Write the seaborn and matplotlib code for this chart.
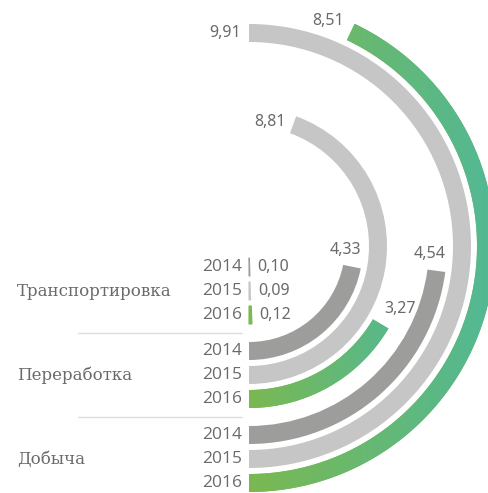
import numpy as np
import pandas as pd
import matplotlib
matplotlib.use("Agg")
import matplotlib.pyplot as plt
from matplotlib.path import Path
import seaborn as sns

# Data: value by segment and year
segments = ["Транспортировка", "Переработка", "Добыча"]
years = ["2014", "2015", "2016"]
transport = [0.10, 0.09, 0.12]
processing = [4.33, 8.81, 3.27]
production = [4.54, 9.91, 8.51]

# Style
year_colors = {"2014": "#9d9d9c", "2015": "#c6c6c6", "2016": "#7ab851"}
green_start, green_end = "#7ab851", "#52b995"
text_color = "#6a6a6a"
rule_color = "#dddddd"

# Layout (pixels)
W, H, DPI = 488, 493, 100
CX, CY = 249, 246            # ring centre, measured from top-left
R0, STEP, GROUP_GAP = 21, 24, 12
BAR = 18
RMAX = 250

sns.set_theme(style="white")

rows = []
for i, (seg, vals) in enumerate(zip(segments, [transport, processing, production])):
    for j, (yr, v) in enumerate(zip(years, vals)):
        rows.append(dict(segment=seg, year=yr, value=v,
                         radius=R0 + (3 * i + j) * STEP + i * GROUP_GAP))
df = pd.DataFrame(rows)
full_scale = df["value"].max()            # largest value spans a half circle
df["theta"] = df["value"] / full_scale * np.pi

fig = plt.figure(figsize=(W / DPI, H / DPI), dpi=DPI)
ax = fig.add_axes([(CX - RMAX) / W, (H - CY - RMAX) / H, 2 * RMAX / W, 2 * RMAX / H],
                  projection="polar")
ax.set_theta_zero_location("S")
ax.set_theta_direction(1)

sns.barplot(data=df, x="theta", y="radius", hue="year", palette=year_colors,
            orient="y", native_scale=True, width=BAR / STEP, errorbar=None,
            saturation=1, legend=False, linewidth=0, ax=ax)
ax.set_thetalim(0, 2 * np.pi)
ax.set_ylim(0, RMAX)
ax.axis("off")

# Overlay in pixel coordinates for the gradient, rules and row labels
ov = fig.add_axes([0, 0, 1, 1], zorder=2)
ov.axis("off")
ov.patch.set_alpha(0)

green_rgb = matplotlib.colors.to_rgba(year_colors["2016"])
cmap = sns.blend_palette([green_start, green_end], as_cmap=True)
grad = np.linspace(0, 1, 256)[None, :]
for p in ax.patches:
    th0, th1 = p.get_x(), p.get_x() + p.get_width()
    r_in, r_out = p.get_y(), p.get_y() + p.get_height()
    if p.get_width() * r_out < 3:
        # keep very short arcs visible
        p.set_edgecolor(p.get_facecolor())
        p.set_linewidth(0.8)
        continue
    if np.allclose(p.get_facecolor(), green_rgb):
        # annular sector outline in (theta, r), densely sampled
        t = np.linspace(th0, th1, 200)
        verts = np.concatenate([np.c_[t, np.full_like(t, r_out)],
                                np.c_[t[::-1], np.full_like(t, r_in)],
                                [[th0, r_out]]])
        clip = Path(verts, closed=True)
        # horizontal green-to-teal blend across the ring's own width
        im = ov.imshow(grad, cmap=cmap, extent=(CX, CX + r_out, H, 0),
                       aspect="auto", interpolation="bilinear")
        im.set_clip_path(clip, ax.transData)
ov.set_xlim(0, W)
ov.set_ylim(H, 0)

# Value labels at the end of each arc
for _, row in df.iterrows():
    th, r = row["theta"], row["radius"]
    tx, ty = np.cos(th), np.sin(th)     # tangent direction, y up
    label = f"{row['value']:.2f}".replace(".", ",")
    gap = 8
    if abs(tx) < 0.4:
        xy = (th, r + BAR / 2)
        off = (0, 10)
        ha, va = "right", "bottom"
    else:
        xy = (th, r)
        off = (gap * tx, gap * ty)
        ha = "left" if tx > 0 else "right"
        va = "bottom" if ty > 0.4 else "center"
    ax.annotate(label, xy=xy, xytext=off, textcoords="offset pixels",
                ha=ha, va=va, fontsize=11.5, color=text_color,
                family=["Noto Sans", "DejaVu Sans"])

# Year labels, segment names and separating rules
for i, seg in enumerate(segments):
    sub = df[df["segment"] == seg]
    for _, row in sub.iterrows():
        ov.text(CX - 7, CY + row["radius"], row["year"], ha="right", va="center",
                fontsize=12.5, color=text_color, family=["Open Sans", "DejaVu Sans"])
    mid = sub["radius"].iloc[1]
    ov.text(17, CY + mid, seg, ha="left", va="center", fontsize=12,
            color=text_color, family=["DejaVu Serif"])
    if i < len(segments) - 1:
        nxt = df[df["segment"] == segments[i + 1]]["radius"].iloc[0]
        y = CY + (sub["radius"].iloc[-1] + nxt) / 2
        ov.plot([78, 242], [y, y], color=rule_color, lw=1)

fig.savefig("out.png", dpi=DPI)
